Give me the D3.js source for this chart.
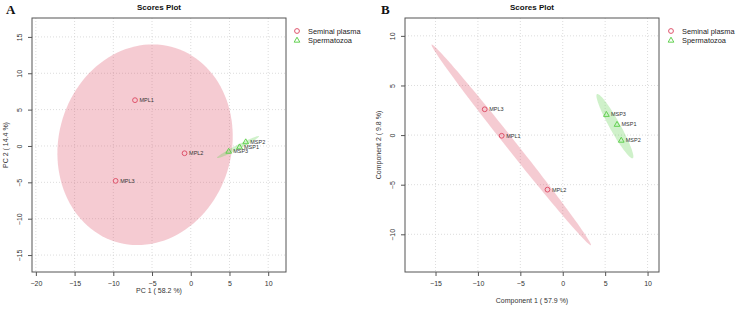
<!DOCTYPE html>
<html><head><meta charset="utf-8">
<script src="https://cdn.jsdelivr.net/npm/d3@7"></script>
<style>body{margin:0;background:#fff}svg{display:block;font-family:"Liberation Sans",Arial,sans-serif}</style>
</head><body>
<svg id="c" width="737" height="312"></svg>
<script>
// ---------- data ----------
const groups = ["Seminal plasma", "Spermatozoa"];
const groupColors = ["#DF536B", "#61D04F"];
// Panel A (PCA)
const aLabels = ["MPL1", "MPL2", "MPL3", "MSP1", "MSP2", "MSP3"];
const aGroup  = [0, 0, 0, 1, 1, 1];
const aX = [-7.2, -0.8, -9.7, 6.3, 7.1, 4.9];
const aY = [6.3, -1.0, -4.8, -0.1, 0.6, -0.7];
// ellipses: [cx, cy, semi-major, semi-minor, angle(deg)] in data units
const aEllipses = [[-5.9, 0.17, 13.9, 11.2, 78.4], [6.1, -0.15, 3.1, 0.3, 28.8]];
const aXTicks = [-20, -15, -10, -5, 0, 5, 10];
const aYTicks = [-15, -10, -5, 0, 5, 10, 15];
// Panel B (PLS-DA)
const bLabels = ["MPL1", "MPL2", "MPL3", "MSP1", "MSP2", "MSP3"];
const bGroup  = [0, 0, 0, 1, 1, 1];
const bX = [-7.2, -1.8, -9.2, 6.4, 6.9, 5.15];
const bY = [-0.07, -5.5, 2.6, 1.1, -0.5, 2.1];
const bEllipses = [[-6.07, -0.99, 13.8, 0.55, -47.1], [6.15, 0.9, 3.86, 0.6, -56.7]];
const bXTicks = [-15, -10, -5, 0, 5, 10];
const bYTicks = [-10, -5, 0, 5, 10];

const svg = d3.select("#c");

function panel(o) {
  const g = svg.append("g");
  const x = d3.scaleLinear().domain(o.xDom).range([o.left, o.right]);
  const y = d3.scaleLinear().domain(o.yDom).range([o.bottom, o.top]);
  // grid
  g.selectAll(".gx").data(o.xTicks).join("line")
    .attr("x1", d => x(d)).attr("x2", d => x(d)).attr("y1", o.top).attr("y2", o.bottom)
    .attr("stroke", "#d3d3d3").attr("stroke-width", 0.8).attr("stroke-dasharray", "1,2");
  g.selectAll(".gy").data(o.yTicks).join("line")
    .attr("y1", d => y(d)).attr("y2", d => y(d)).attr("x1", o.left).attr("x2", o.right)
    .attr("stroke", "#d3d3d3").attr("stroke-width", 0.8).attr("stroke-dasharray", "1,2");
  // ellipses
  const line = d3.line();
  o.ellipses.forEach((e, i) => {
    const [cx, cy, a, b, ang] = e;
    const th = ang * Math.PI / 180;
    const pts = d3.range(0, 361, 3).map(t => {
      const r = t * Math.PI / 180;
      const dx = a * Math.cos(r), dy = b * Math.sin(r);
      return [x(cx + dx * Math.cos(th) - dy * Math.sin(th)), y(cy + dx * Math.sin(th) + dy * Math.cos(th))];
    });
    g.append("path").attr("d", line(pts) + "Z").attr("fill", groupColors[i]).attr("fill-opacity", 0.3).attr("stroke", "none");
  });
  // box
  g.append("rect").attr("x", o.left).attr("y", o.top).attr("width", o.right - o.left).attr("height", o.bottom - o.top)
    .attr("fill", "none").attr("stroke", "#555").attr("stroke-width", 1);
  // axes
  const xa = g.append("g").attr("transform", `translate(0,${o.bottom})`)
    .call(d3.axisBottom(x).tickValues(o.xTicks).tickSize(4).tickPadding(5));
  const ya = g.append("g").attr("transform", `translate(${o.left},0)`)
    .call(d3.axisLeft(y).tickValues(o.yTicks).tickSize(4).tickPadding(5));
  [xa, ya].forEach(a => {
    a.select(".domain").remove();
    a.selectAll("line").attr("stroke", "#555");
    a.selectAll("text").attr("fill", "#333").style("font-size", "7px").style("font-family", "Liberation Sans, Arial, sans-serif");
  });
  ya.selectAll("text").attr("text-anchor", "middle").attr("dy", null).attr("x", 0).attr("y", 0)
    .attr("transform", "translate(-10,0) rotate(-90)");
  // points
  o.X.forEach((v, i) => {
    const px = x(v), py = y(o.Y[i]);
    const col = groupColors[o.grp[i]];
    if (o.grp[i] === 0) {
      g.append("circle").attr("cx", px).attr("cy", py).attr("r", 2.4).attr("fill", "none").attr("stroke", col).attr("stroke-width", 1);
    } else {
      g.append("path").attr("d", d3.symbol(d3.symbolTriangle, 14)()).attr("transform", `translate(${px},${py + 0.5})`)
        .attr("fill", "none").attr("stroke", col).attr("stroke-width", 1);
    }
    g.append("text").attr("x", px + 4.5).attr("y", py + 2).text(o.labels[i])
      .style("font-size", "5.5px").attr("fill", "#333");
  });
  // titles
  g.append("text").attr("x", (o.left + o.right) / 2).attr("y", 10).attr("text-anchor", "middle")
    .style("font-size", "8px").style("font-weight", "bold").attr("fill", "#111").text("Scores Plot");
  g.append("text").attr("x", (o.left + o.right) / 2).attr("y", o.xTitleY).attr("text-anchor", "middle")
    .style("font-size", "7px").attr("fill", "#333").text(o.xTitle);
  g.append("text").attr("transform", `translate(${o.yTitleX},${(o.top + o.bottom) / 2}) rotate(-90)`).attr("text-anchor", "middle")
    .style("font-size", "7px").attr("fill", "#333").text(o.yTitle);
  g.append("text").attr("x", o.letterX).attr("y", 14).style("font-family", "Liberation Serif, Times New Roman, serif")
    .style("font-size", "13px").style("font-weight", "bold").attr("fill", "#111").text(o.letter);
  // legend
  groups.forEach((name, i) => {
    const ly = 31 + i * 9;
    if (i === 0) {
      g.append("circle").attr("cx", o.legX).attr("cy", ly).attr("r", 2.4).attr("fill", "none").attr("stroke", groupColors[i]).attr("stroke-width", 1);
    } else {
      g.append("path").attr("d", d3.symbol(d3.symbolTriangle, 14)()).attr("transform", `translate(${o.legX},${ly + 0.5})`)
        .attr("fill", "none").attr("stroke", groupColors[i]).attr("stroke-width", 1);
    }
    g.append("text").attr("x", o.legX + 11).attr("y", ly + 3).style("font-size", "7.4px").attr("fill", "#222").text(name);
  });
}

panel({left: 32, right: 286, top: 18, bottom: 272, xDom: [-20.5, 12.3], yDom: [-17.33, 17.6],
  xTicks: aXTicks, yTicks: aYTicks, ellipses: aEllipses, X: aX, Y: aY, grp: aGroup, labels: aLabels,
  xTitle: "PC 1 ( 58.2 %)", yTitle: "PC 2 ( 14.4 %)", xTitleY: 293, yTitleX: 8, letter: "A", letterX: 6, legX: 297});
panel({left: 405, right: 659, top: 18, bottom: 272, xDom: [-18.6, 11.35], yDom: [-13.8, 11.8],
  xTicks: bXTicks, yTicks: bYTicks, ellipses: bEllipses, X: bX, Y: bY, grp: bGroup, labels: bLabels,
  xTitle: "Component 1 ( 57.9 %)", yTitle: "Component 2 ( 9.8 %)", xTitleY: 303, yTitleX: 381, letter: "B", letterX: 381, legX: 671});
</script>
</body></html>
